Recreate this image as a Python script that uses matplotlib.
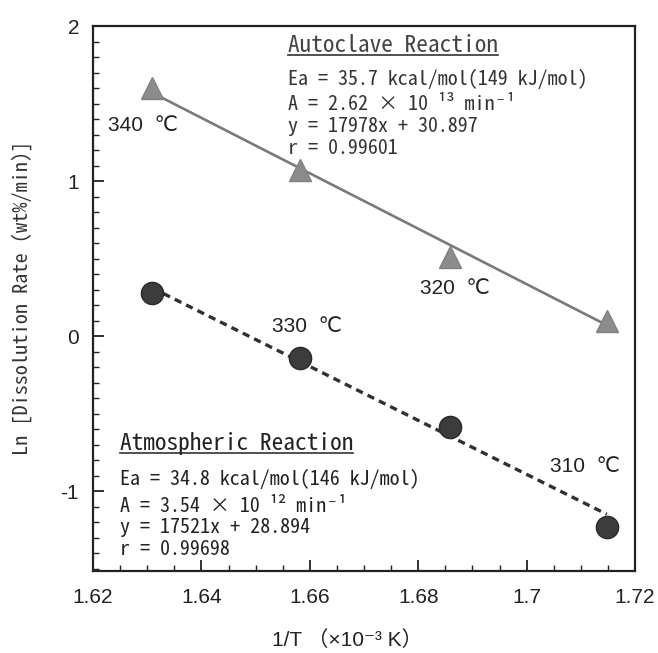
import matplotlib
matplotlib.use("Agg")
import matplotlib.pyplot as plt
from matplotlib.ticker import MultipleLocator, FixedLocator

plt.rcParams['axes.unicode_minus'] = False

# ---- data ----
inv_T = [1.6309, 1.6582, 1.6859, 1.7148]            # 1/T (x10^-3 K^-1)
autoclave_ln = [1.60, 1.07, 0.51, 0.10]
atmospheric_ln = [0.28, -0.14, -0.59, -1.23]
fit_x = [1.6309, 1.7148]
autoclave_fit = [1.57, 0.07]
atmospheric_fit = [0.31, -1.15]
temp_labels = ['340  ℃', '330  ℃', '320  ℃', '310  ℃']
x_ticks = [1.62, 1.64, 1.66, 1.68, 1.70, 1.72]
x_ticklabels = ['1.62', '1.64', '1.66', '1.68', '1.7', '1.72']
y_ticks = [-1, 0, 1, 2]

auto_text = ['Autoclave Reaction',
             'Ea = 35.7 kcal/mol(149 kJ/mol)',
             'A = 2.62 × 10 ¹³ min⁻¹',
             'y = 17978x + 30.897',
             'r = 0.99601']
atm_text = ['Atmospheric Reaction',
            'Ea = 34.8 kcal/mol(146 kJ/mol)',
            'A = 3.54 × 10 ¹² min⁻¹',
            'y = 17521x + 28.894',
            'r = 0.99698']

MONO = ['Noto Sans Mono CJK JP', 'DejaVu Sans Mono', 'DejaVu Sans']
SANS = ['Liberation Sans', 'DejaVu Sans', 'Noto Sans CJK JP']
SANS_CJK = ['Liberation Sans', 'Noto Sans CJK JP', 'DejaVu Sans']

W, H = 658, 653
fig = plt.figure(figsize=(W / 100, H / 100), dpi=100)
L, R, T, B = 93, 635, 26, 571
ax = fig.add_axes([L / W, 1 - B / H, (R - L) / W, (B - T) / H])

ax.plot(fit_x, autoclave_fit, '-', color='#7a7a7a', lw=1.9, zorder=2)
ax.plot(fit_x, atmospheric_fit, '--', color='#303030', lw=2.4, dashes=(2.2, 1.6), zorder=2)
ax.plot(inv_T, autoclave_ln, '^', color='#8c8c8c', ms=16, mec='#808080', zorder=3)
ax.plot(inv_T, atmospheric_ln, 'o', color='#3c3c3c', ms=16, mec='#2a2a2a', zorder=3)

ax.set_xlim(1.62, 1.72)
ax.set_ylim(-1.516, 2.0)
ax.xaxis.set_major_locator(FixedLocator(x_ticks))
ax.set_xticklabels(x_ticklabels)
ax.xaxis.set_minor_locator(MultipleLocator(0.005))
ax.yaxis.set_major_locator(FixedLocator(y_ticks))
ax.yaxis.set_minor_locator(MultipleLocator(0.1))
ax.tick_params(which='both', direction='in', top=False, right=False, colors='#222222')
ax.tick_params(which='major', length=8, width=1.3)
ax.tick_params(which='minor', length=4, width=1.0)
ax.tick_params(axis='x', pad=12)
ax.tick_params(axis='y', pad=10)
for lab in ax.get_xticklabels() + ax.get_yticklabels():
    lab.set_family(SANS)
    lab.set_fontsize(15)
    lab.set_color('#222222')
for s in ax.spines.values():
    s.set_linewidth(1.6)
    s.set_color('#222222')

# temperature labels (axes fraction positions)
temp_pos = [(0.028, 0.818), (0.330, 0.448), (0.603, 0.519), (0.843, 0.191)]
for txt, (px, py) in zip(temp_labels, temp_pos):
    ax.text(px, py, txt, transform=ax.transAxes, fontsize=15, family=SANS,
            ha='left', va='center', color='#222222')

auto_y = [0.952, 0.892, 0.845, 0.806, 0.766]
atm_y = [0.222, 0.158, 0.108, 0.070, 0.030]
texts_to_underline = []
for i, (txt, yy) in enumerate(zip(auto_text, auto_y)):
    t = ax.text(0.36, yy, txt, transform=ax.transAxes, fontsize=16.8 if i == 0 else 14.4,
                family=MONO, ha='left', va='baseline', color='#333333' if i else '#444444')
    if i == 0:
        texts_to_underline.append((t, yy))
for i, (txt, yy) in enumerate(zip(atm_text, atm_y)):
    t = ax.text(0.050, yy, txt, transform=ax.transAxes, fontsize=16.8 if i == 0 else 14.4,
                family=MONO, ha='left', va='baseline', color='#222222')
    if i == 0:
        texts_to_underline.append((t, yy))

fig.text(22 / W, 1 - 298 / H, 'Ln [Dissolution Rate (wt%/min)]', rotation=90,
         fontsize=14.6, family=MONO, ha='center', va='center', color='#333333')
fig.text(347 / W, 1 - 640 / H, '1/T （×10⁻³ K）', fontsize=15, family=SANS_CJK,
         ha='center', va='center', color='#222222')

fig.canvas.draw()
r = fig.canvas.get_renderer()
inv = ax.transAxes.inverted()
for t, yy in texts_to_underline:
    bb = t.get_window_extent(renderer=r)
    x0 = inv.transform((bb.x0, 0))[0]
    x1 = inv.transform((bb.x1, 0))[0]
    ax.plot([x0, x1], [yy - 2.5 / 545, yy - 2.5 / 545], transform=ax.transAxes,
            color='#333333', lw=1.2, clip_on=False)

fig.savefig('out.png', dpi=100)
